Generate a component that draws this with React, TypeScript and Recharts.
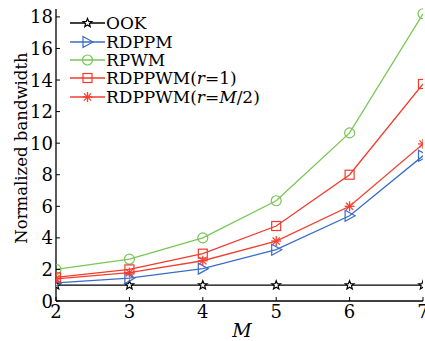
import { LineChart, Line, XAxis, YAxis, Label } from 'recharts'

const mValues = [2, 3, 4, 5, 6, 7]
const ook = [1, 1, 1, 1, 1, 1]
const rdppm = [1.15, 1.45, 2.05, 3.25, 5.4, 9.2]
const rpwm = [2.0, 2.65, 4.0, 6.35, 10.65, 18.2]
const rdppwmR1 = [1.5, 2.0, 3.0, 4.75, 8.0, 13.75]
const rdppwmHalf = [1.4, 1.8, 2.55, 3.8, 6.0, 9.95]
const yTicks = [0, 2, 4, 6, 8, 10, 12, 14, 16, 18]

const FONT = 'DejaVu Serif'

const data = mValues.map((m, i) => ({
  m,
  ook: ook[i],
  rdppm: rdppm[i],
  rpwm: rpwm[i],
  r1: rdppwmR1[i],
  half: rdppwmHalf[i],
}))

type Shape = 'star' | 'triangle' | 'circle' | 'square' | 'asterisk'

const series: Array<{ key: string; color: string; shape: Shape; label: React.ReactNode }> = [
  { key: 'ook', color: '#000000', shape: 'star', label: 'OOK' },
  { key: 'rdppm', color: '#3a6cc6', shape: 'triangle', label: 'RDPPM' },
  { key: 'rpwm', color: '#78c656', shape: 'circle', label: 'RPWM' },
  {
    key: 'r1',
    color: '#f23a2c',
    shape: 'square',
    label: (
      <>
        RDPPWM(<i>r</i>=1)
      </>
    ),
  },
  {
    key: 'half',
    color: '#f43f30',
    shape: 'asterisk',
    label: (
      <>
        RDPPWM(<i>r</i>=<i>M</i>/2)
      </>
    ),
  },
]

function Marker({ cx, cy, shape, color }: { cx: number; cy: number; shape: Shape; color: string }) {
  const sw = 1.2
  if (shape === 'star') {
    const pts: string[] = []
    for (let k = 0; k < 10; k++) {
      const r = k % 2 === 0 ? 4.6 : 2
      const a = -Math.PI / 2 + (k * Math.PI) / 5
      pts.push(`${cx + r * Math.cos(a)},${cy + r * Math.sin(a)}`)
    }
    return <polygon points={pts.join(' ')} fill="#fff" stroke={color} strokeWidth={sw} />
  }
  if (shape === 'triangle') {
    return (
      <polygon
        points={`${cx - 4.5},${cy - 5.5} ${cx + 5.5},${cy} ${cx - 4.5},${cy + 5.5}`}
        fill="none"
        stroke={color}
        strokeWidth={sw}
      />
    )
  }
  if (shape === 'circle') {
    return <circle cx={cx} cy={cy} r={5} fill="none" stroke={color} strokeWidth={sw} />
  }
  if (shape === 'square') {
    return <rect x={cx - 4.5} y={cy - 4.5} width={9} height={9} fill="none" stroke={color} strokeWidth={sw} />
  }
  const r = 5
  const d = r * 0.72
  return (
    <g stroke={color} strokeWidth={1.3}>
      <line x1={cx - r} y1={cy} x2={cx + r} y2={cy} />
      <line x1={cx} y1={cy - r} x2={cx} y2={cy + r} />
      <line x1={cx - d} y1={cy - d} x2={cx + d} y2={cy + d} />
      <line x1={cx - d} y1={cy + d} x2={cx + d} y2={cy - d} />
    </g>
  )
}

const makeDot = (shape: Shape, color: string) => (props: any) => (
  <Marker key={`${shape}-${props.index}`} cx={props.cx} cy={props.cy} shape={shape} color={color} />
)

// inward tick marks, labels outside
const BottomTick = (props: any) => (
  <g>
    <line x1={props.x} y1={props.y} x2={props.x} y2={props.y - 4} stroke="#000" />
    <text x={props.x} y={props.y + 17} textAnchor="middle" fontSize={18} style={{ fontFamily: FONT }} fill="#000">
      {props.payload.value}
    </text>
  </g>
)
const TopTick = (props: any) => (
  <line x1={props.x} y1={props.y} x2={props.x} y2={props.y + 4} stroke="#000" />
)
const LeftTick = (props: any) => (
  <g>
    <line x1={props.x} y1={props.y} x2={props.x + 4} y2={props.y} stroke="#000" />
    <text x={props.x - 3} y={props.y + 6.5} textAnchor="end" fontSize={18} style={{ fontFamily: FONT }} fill="#000">
      {props.payload.value}
    </text>
  </g>
)
const RightTick = (props: any) => (
  <line x1={props.x} y1={props.y} x2={props.x - 4} y2={props.y} stroke="#000" />
)

const LegendBox = () => (
  <div
    style={{
      position: 'absolute',
      top: 14,
      left: 69,
      background: '#fff',
      fontFamily: FONT,
      fontSize: 17,
      color: '#000',
    }}
  >
    {series.map((s) => (
      <div key={s.key} style={{ display: 'flex', alignItems: 'center', height: 18.4, whiteSpace: 'nowrap' }}>
        <svg width={37} height={18} style={{ display: 'block' }}>
          <line x1={1} y1={9} x2={36} y2={9} stroke={s.color} strokeWidth={1.3} />
          <Marker cx={18.5} cy={9} shape={s.shape} color={s.color} />
        </svg>
        <span style={{ lineHeight: '18px' }}>{s.label}</span>
      </div>
    ))}
  </div>
)

export default function App() {
  return (
    <div style={{ position: 'relative', width: 425, height: 341, background: '#fff' }}>
      <style>{'body{margin:0}'}</style>
      <LineChart width={425} height={341} data={data} margin={{ top: 9, right: 2, left: 0, bottom: 0 }}>
        <XAxis
          dataKey="m"
          type="number"
          domain={[2, 7]}
          ticks={mValues}
          interval={0}
          allowDataOverflow
          height={40}
          tickSize={0}
          tickMargin={0}
          tick={BottomTick}
          axisLine={{ stroke: '#000', strokeWidth: 1.3 }}
        >
          <Label
            content={() => (
              <text x={242} y={337} textAnchor="middle" fontSize={19} fontStyle="italic" style={{ fontFamily: FONT }} fill="#000">
                M
              </text>
            )}
          />
        </XAxis>
        <XAxis
          xAxisId="top"
          orientation="top"
          dataKey="m"
          type="number"
          domain={[2, 7]}
          ticks={mValues}
          interval={0}
          allowDataOverflow
          height={0}
          tickSize={0}
          tickMargin={0}
          tick={TopTick}
          axisLine={{ stroke: '#000', strokeWidth: 1.3 }}
        />
        <YAxis
          type="number"
          domain={[0, 18.5]}
          ticks={yTicks}
          interval={0}
          width={56}
          tickSize={0}
          tickMargin={0}
          tick={LeftTick}
          axisLine={{ stroke: '#000', strokeWidth: 1.3 }}
        >
          <Label
            content={() => (
              <text
                x={27}
                y={148}
                transform="rotate(-90 27 148)"
                textAnchor="middle"
                fontSize={16.5}
                style={{ fontFamily: FONT }}
                fill="#000"
              >
                Normalized bandwidth
              </text>
            )}
          />
        </YAxis>
        <YAxis
          yAxisId="right"
          orientation="right"
          type="number"
          domain={[0, 18.5]}
          ticks={yTicks}
          interval={0}
          width={0}
          tickSize={0}
          tickMargin={0}
          tick={RightTick}
          axisLine={{ stroke: '#000', strokeWidth: 1.3 }}
        />
        {series.map((s) => (
          <Line
            key={s.key}
            dataKey={s.key}
            stroke={s.color}
            strokeWidth={1.3}
            dot={makeDot(s.shape, s.color)}
            activeDot={false}
            isAnimationActive={false}
          />
        ))}
      </LineChart>
      <LegendBox />
    </div>
  )
}
